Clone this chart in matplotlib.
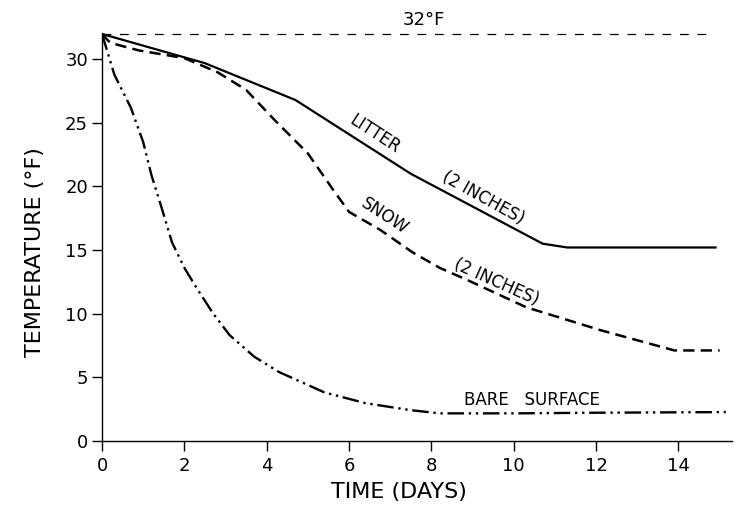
import numpy as np
import matplotlib
matplotlib.use("Agg")
from matplotlib import pyplot as plt

plt.rcParams['font.family'] = ['DejaVu Sans']

# data (time in days, temperature in deg F)
litter_x = [0, 2.5, 4.7, 7.5, 10.7, 11.3, 14.9]
litter_y = [32, 29.7, 26.8, 21.0, 15.5, 15.2, 15.2]

snow_x = [0, 0.2, 0.9, 2.0, 2.8, 3.5, 4.2, 5.0, 5.6, 6.0, 6.75, 7.55, 8.2, 8.9, 10.3, 12.1, 13.9, 15.0]
snow_y = [32, 31.3, 30.7, 30.1, 29.0, 27.6, 25.2, 22.6, 19.8, 18.0, 16.6, 14.8, 13.6, 12.6, 10.5, 8.7, 7.1, 7.1]

bare_x = [0, 0.3, 0.7, 1.0, 1.2, 1.45, 1.7, 2.0, 2.3, 2.7, 3.1, 3.7, 4.3, 5.4, 6.4, 7.5, 8.2, 10, 12, 15.15]
bare_y = [32, 28.8, 26.2, 23.5, 20.9, 18.3, 15.6, 13.6, 12.0, 10.0, 8.3, 6.6, 5.4, 3.8, 2.95, 2.4, 2.15, 2.15, 2.2, 2.25]

freeze_x = [0, 14.8]
freeze_y = [32, 32]

xticks = [0, 2, 4, 6, 8, 10, 12, 14]
yticks = [0, 5, 10, 15, 20, 25, 30]

fig = plt.figure(figsize=(7.36, 5.11), dpi=100)
ax = fig.add_axes([0.1386, 0.1376, 0.856, 0.8208])

ax.plot(freeze_x, freeze_y, c='black', lw=0.9, ls=(0, (7, 7)))
ax.plot(litter_x, litter_y, c='black', lw=1.6, ls='-')
ax.plot(snow_x, snow_y, c='black', lw=1.8, ls=(0, (4.5, 2.5)))
ax.plot(bare_x, bare_y, c='black', lw=1.7, ls=(0, (7, 2, 1, 2, 1, 2)))

ax.set_xlim(0, 15.3)
ax.set_ylim(0, 33)
ax.spines['top'].set_visible(False)
ax.spines['right'].set_visible(False)
ax.spines['left'].set_bounds(0, 32)
ax.spines['left'].set_linewidth(1.0)
ax.spines['bottom'].set_linewidth(1.0)

ax.set_xticks(xticks)
ax.set_yticks(yticks)
ax.tick_params(axis='both', direction='out', length=7, width=1, labelsize=13)
ax.tick_params(axis='x', pad=5)
ax.tick_params(axis='y', pad=3)

ax.text(7.82, 33.1, "32°F", fontsize=13, ha='center', va='center')
ax.text(6.62, 24.1, "LITTER", fontsize=12, ha='center', va='center', rotation=-33)
ax.text(9.25, 19.1, "(2 INCHES)", fontsize=12, ha='center', va='center', rotation=-29)
ax.text(6.87, 17.7, "SNOW", fontsize=12, ha='center', va='center', rotation=-33)
ax.text(9.59, 12.5, "(2 INCHES)", fontsize=12, ha='center', va='center', rotation=-24)
ax.text(10.44, 3.2, "BARE   SURFACE", fontsize=12, ha='center', va='center')

fig.text(0.542, 0.037, "TIME (DAYS)", fontsize=16, ha='center', va='center')
fig.text(0.048, 0.507, "TEMPERATURE (°F)", fontsize=16, ha='center', va='center', rotation=90)

fig.savefig("out.png", dpi=100)
